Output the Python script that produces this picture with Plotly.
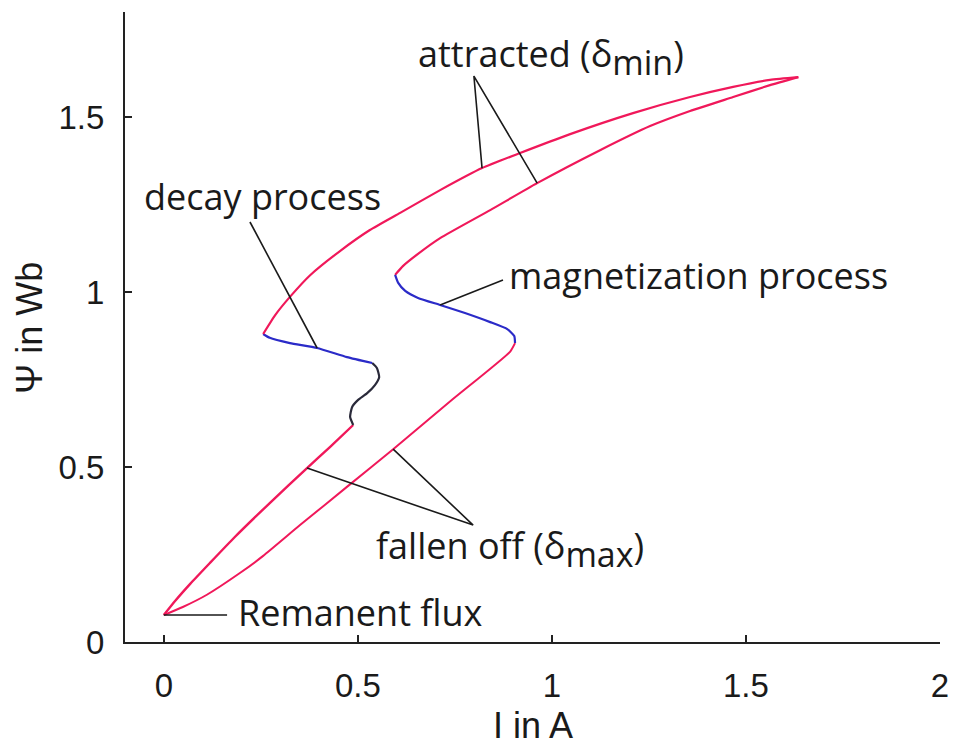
import plotly.graph_objects as go

# ---- data: flux linkage loop (I in A, Psi in Wb) ----
rise_I   = [0.000, 0.029, 0.068, 0.119, 0.183, 0.273, 0.369, 0.428, 0.488]
rise_Psi = [0.077, 0.117, 0.166, 0.226, 0.300, 0.397, 0.497, 0.557, 0.620]

wiggle_I   = [0.488, 0.480, 0.485, 0.500, 0.524, 0.544, 0.555, 0.549, 0.537]
wiggle_Psi = [0.620, 0.643, 0.671, 0.691, 0.711, 0.734, 0.757, 0.783, 0.797]

decay_I   = [0.537, 0.472, 0.395, 0.325, 0.273, 0.256]
decay_Psi = [0.797, 0.814, 0.840, 0.854, 0.869, 0.880]

attr_up_I   = [0.256, 0.287, 0.325, 0.377, 0.454, 0.531, 0.609, 0.712, 0.820, 0.918,
               1.047, 1.209, 1.356, 1.467, 1.562, 1.635]
attr_up_Psi = [0.880, 0.934, 0.986, 1.048, 1.117, 1.177, 1.226, 1.291, 1.354, 1.397,
               1.451, 1.511, 1.557, 1.586, 1.606, 1.614]

attr_dn_I   = [1.635, 1.562, 1.467, 1.356, 1.253, 1.124, 0.962, 0.841, 0.712, 0.655, 0.616, 0.596]
attr_dn_Psi = [1.614, 1.591, 1.557, 1.517, 1.474, 1.405, 1.311, 1.234, 1.154, 1.109, 1.074, 1.049]

magn_I   = [0.596, 0.604, 0.622, 0.655, 0.712, 0.776, 0.841, 0.885, 0.903, 0.905]
magn_Psi = [1.049, 1.026, 1.003, 0.983, 0.963, 0.940, 0.914, 0.894, 0.874, 0.854]

fall_I   = [0.905, 0.892, 0.745, 0.591, 0.475, 0.351, 0.256, 0.196, 0.111, 0.049, 0.000]
fall_Psi = [0.854, 0.829, 0.694, 0.551, 0.446, 0.334, 0.246, 0.197, 0.135, 0.100, 0.077]

# ---- annotation labels and leader lines ----
labels      = ["attracted (δ<sub><span style='font-size:34px'>min</span></sub>)",
               "decay process",
               "magnetization process",
               "fallen off (δ<sub><span style='font-size:34px'>max</span></sub>)",
               "Remanent flux"]
label_I     = [0.650, -0.055, 0.885, 0.542, 0.187]
label_Psi   = [1.672, 1.272, 1.048, 0.266, 0.083]

lead_attr_I   = [0.820, 0.799, 0.962]
lead_attr_Psi = [1.354, 1.617, 1.311]
lead_decay_I   = [0.222, 0.395]
lead_decay_Psi = [1.200, 0.840]
lead_magn_I   = [0.712, 0.874]
lead_magn_Psi = [0.963, 1.034]
lead_fall_I   = [0.369, 0.797, 0.591]
lead_fall_Psi = [0.497, 0.334, 0.551]
lead_rem_I   = [0.000, 0.163]
lead_rem_Psi = [0.077, 0.077]

x_ticks = [0, 0.5, 1, 1.5, 2]
x_tick_text = ["0", "0.5", "1", "1.5", "2"]
y_ticks = [0, 0.5, 1, 1.5]
y_tick_text = ["0", "0.5", "1", "1.5"]

RED = "#f0185a"
BLUE = "#2b2bc8"
DARK = "#2a2a3a"

fig = go.Figure()

def add_line(x, y, color, width=2.2):
    fig.add_trace(go.Scatter(x=x, y=y, mode="lines",
                             line=dict(color=color, width=width, shape="spline", smoothing=0.5),
                             hoverinfo="skip", showlegend=False))

add_line(rise_I, rise_Psi, RED, 2.4)
add_line(wiggle_I, wiggle_Psi, DARK, 2.2)
add_line(decay_I, decay_Psi, BLUE, 2.2)
add_line(attr_up_I, attr_up_Psi, RED, 2.2)
add_line(attr_dn_I, attr_dn_Psi, RED, 2.2)
add_line(magn_I, magn_Psi, BLUE, 2.2)
add_line(fall_I, fall_Psi, RED, 2.0)

for lx, ly in [(lead_attr_I, lead_attr_Psi), (lead_decay_I, lead_decay_Psi),
               (lead_magn_I, lead_magn_Psi), (lead_fall_I, lead_fall_Psi),
               (lead_rem_I, lead_rem_Psi)]:
    fig.add_trace(go.Scatter(x=lx, y=ly, mode="lines",
                             line=dict(color="#1a1a1a", width=1.6),
                             hoverinfo="skip", showlegend=False))

for t, lx, ly in zip(labels, label_I, label_Psi):
    fig.add_annotation(x=lx, y=ly, xref="x", yref="y", text=t, showarrow=False,
                       xanchor="left", yanchor="middle",
                       font=dict(family="Open Sans", size=36, color="#1a1a1a"))

# axis titles
fig.add_annotation(x=0.5, y=-0.133, xref="paper", yref="paper", text="I in A",
                   showarrow=False, xanchor="center", yanchor="middle",
                   font=dict(family="Liberation Sans", size=36, color="#1a1a1a"))
fig.add_annotation(x=-0.117, y=0.498, xref="paper", yref="paper", text="Ψ in Wb",
                   showarrow=False, xanchor="center", yanchor="middle", textangle=-90,
                   font=dict(family="Liberation Sans", size=36, color="#1a1a1a"))

axis_common = dict(showline=True, linecolor="#222", linewidth=2, ticks="inside",
                   ticklen=7, tickwidth=1.5, tickcolor="#222", showgrid=False,
                   zeroline=False, mirror=False,
                   tickfont=dict(family="Liberation Sans", size=33, color="#1a1a1a"))

# page body has an 8px default margin: compensate so the plot area sits where the reference has it
fig.update_layout(
    width=951, height=736,
    margin=dict(l=117, r=19, t=4, b=102),
    paper_bgcolor="white", plot_bgcolor="white",
    xaxis=dict(range=[-0.1, 2.0], tickvals=x_ticks, ticktext=x_tick_text,
               ticklabelstandoff=13, **axis_common),
    yaxis=dict(range=[0, 1.8], tickvals=y_ticks, ticktext=y_tick_text,
               ticklabelstandoff=12, **axis_common),
)

fig.write_html("out.html")
